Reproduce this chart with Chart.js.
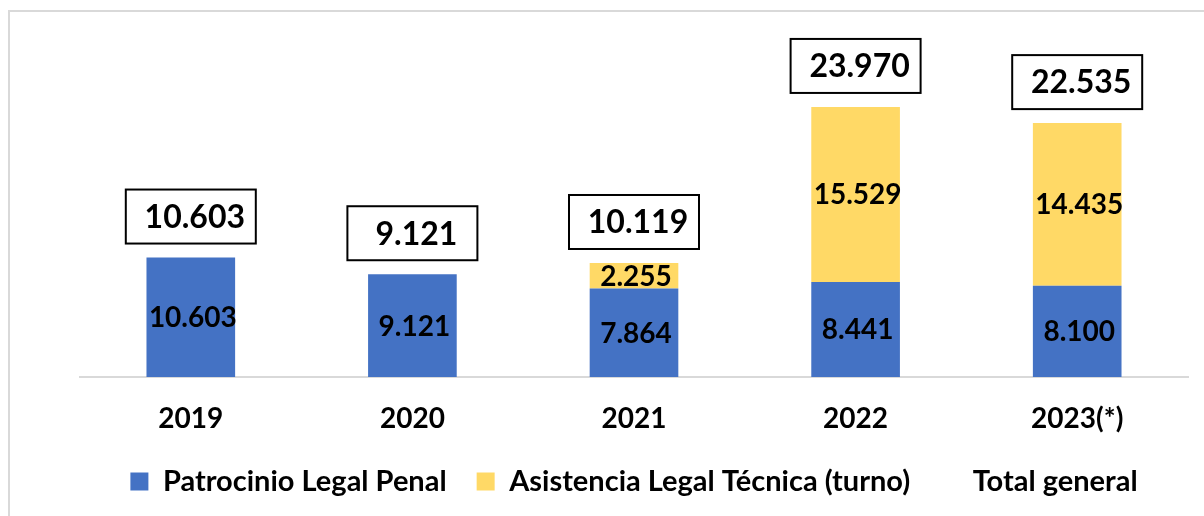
<!DOCTYPE html>
<html>
<head>
<meta charset="utf-8">
<script src="https://cdn.jsdelivr.net/npm/chart.js@4"></script>
<style>
  html, body { margin: 0; padding: 0; background: #fff; }
  #wrap { width: 1204px; height: 516px; }
</style>
</head>
<body>
<div id="wrap"><canvas id="chart" width="1204" height="516"></canvas></div>
<script>
  const years = ['2019', '2020', '2021', '2022', '2023(*)'];
  const patrocinio = [10603, 9121, 7864, 8441, 8100];
  const asistencia = [0, 0, 2255, 15529, 14435];
  const totales = [10603, 9121, 10119, 23970, 22535];

  const FONT = 'Lato, "Open Sans", sans-serif';
  const W = 'bold';

  function fmt(v) {
    return v.toLocaleString('de-DE');
  }

  // labels inside bars + boxed totals + outer frame
  const labelsPlugin = {
    id: 'labelsPlugin',
    afterDraw(chart) {
      const ctx = chart.ctx;
      const y = chart.scales.y;
      ctx.save();

      // frame lines (left/top)
      ctx.strokeStyle = '#d9d9d9';
      ctx.lineWidth = 2;
      ctx.beginPath();
      ctx.moveTo(9, 516);
      ctx.lineTo(9, 11);
      ctx.lineTo(1204, 11);
      ctx.stroke();

      ctx.fillStyle = '#000';
      ctx.textAlign = 'center';
      ctx.textBaseline = 'middle';
      ctx.font = W + ' 28px ' + FONT;
      [0, 1].forEach(di => {
        const meta = chart.getDatasetMeta(di);
        const vals = chart.data.datasets[di].data;
        meta.data.forEach((bar, i) => {
          if (!vals[i]) return;
          const cy = (bar.y + bar.base) / 2;
          ctx.fillText(fmt(vals[i]), bar.x + 2, cy + 1);
        });
      });

      const tmeta = chart.getDatasetMeta(2);
      ctx.font = W + ' 32px ' + FONT;
      tmeta.data.forEach((pt, i) => {
        const top = y.getPixelForValue(totales[i]);
        const bw = 130, bh = 54;
        const bx = pt.x - bw / 2;
        const by = top - 14 - bh;
        ctx.fillStyle = '#fff';
        ctx.fillRect(bx, by, bw, bh);
        ctx.strokeStyle = '#000';
        ctx.lineWidth = 2;
        ctx.strokeRect(bx, by, bw, bh);
        ctx.fillStyle = '#000';
        ctx.fillText(fmt(totales[i]), pt.x + 4, by + bh / 2 + 1);
      });
      ctx.restore();
    }
  };

  new Chart(document.getElementById('chart'), {
    type: 'bar',
    data: {
      labels: years,
      datasets: [
        {
          label: 'Patrocinio Legal Penal',
          data: patrocinio,
          backgroundColor: '#4472C4',
          categoryPercentage: 1,
          barPercentage: 0.4,
          stack: 'a'
        },
        {
          label: 'Asistencia Legal Técnica (turno)',
          data: asistencia,
          backgroundColor: '#FFD966',
          categoryPercentage: 1,
          barPercentage: 0.4,
          stack: 'a'
        },
        {
          type: 'line',
          label: 'Total general',
          data: totales,
          borderColor: 'rgba(0,0,0,0)',
          backgroundColor: 'rgba(0,0,0,0)',
          pointRadius: 0,
          showLine: false,
          stack: 'total'
        }
      ]
    },
    options: {
      responsive: false,
      animation: false,
      layout: { padding: { left: 80, right: 16, top: 39, bottom: 10 } },
      plugins: {
        tooltip: { enabled: false },
        legend: {
          position: 'bottom',
          labels: {
            color: '#000',
            font: { family: FONT, size: 29, weight: W },
            boxWidth: 18,
            boxHeight: 18,
            padding: 30
          }
        }
      },
      scales: {
        x: {
          stacked: true,
          grid: { display: false, tickLength: 24 },
          border: { color: '#d9d9d9', width: 2 },
          ticks: {
            color: '#000',
            font: { family: FONT, size: 28, weight: W, lineHeight: 0.9 },
            padding: 5.4
          }
        },
        y: {
          stacked: true,
          display: false,
          min: 0,
          max: 30000
        }
      }
    },
    plugins: [labelsPlugin]
  });
</script>
</body>
</html>
